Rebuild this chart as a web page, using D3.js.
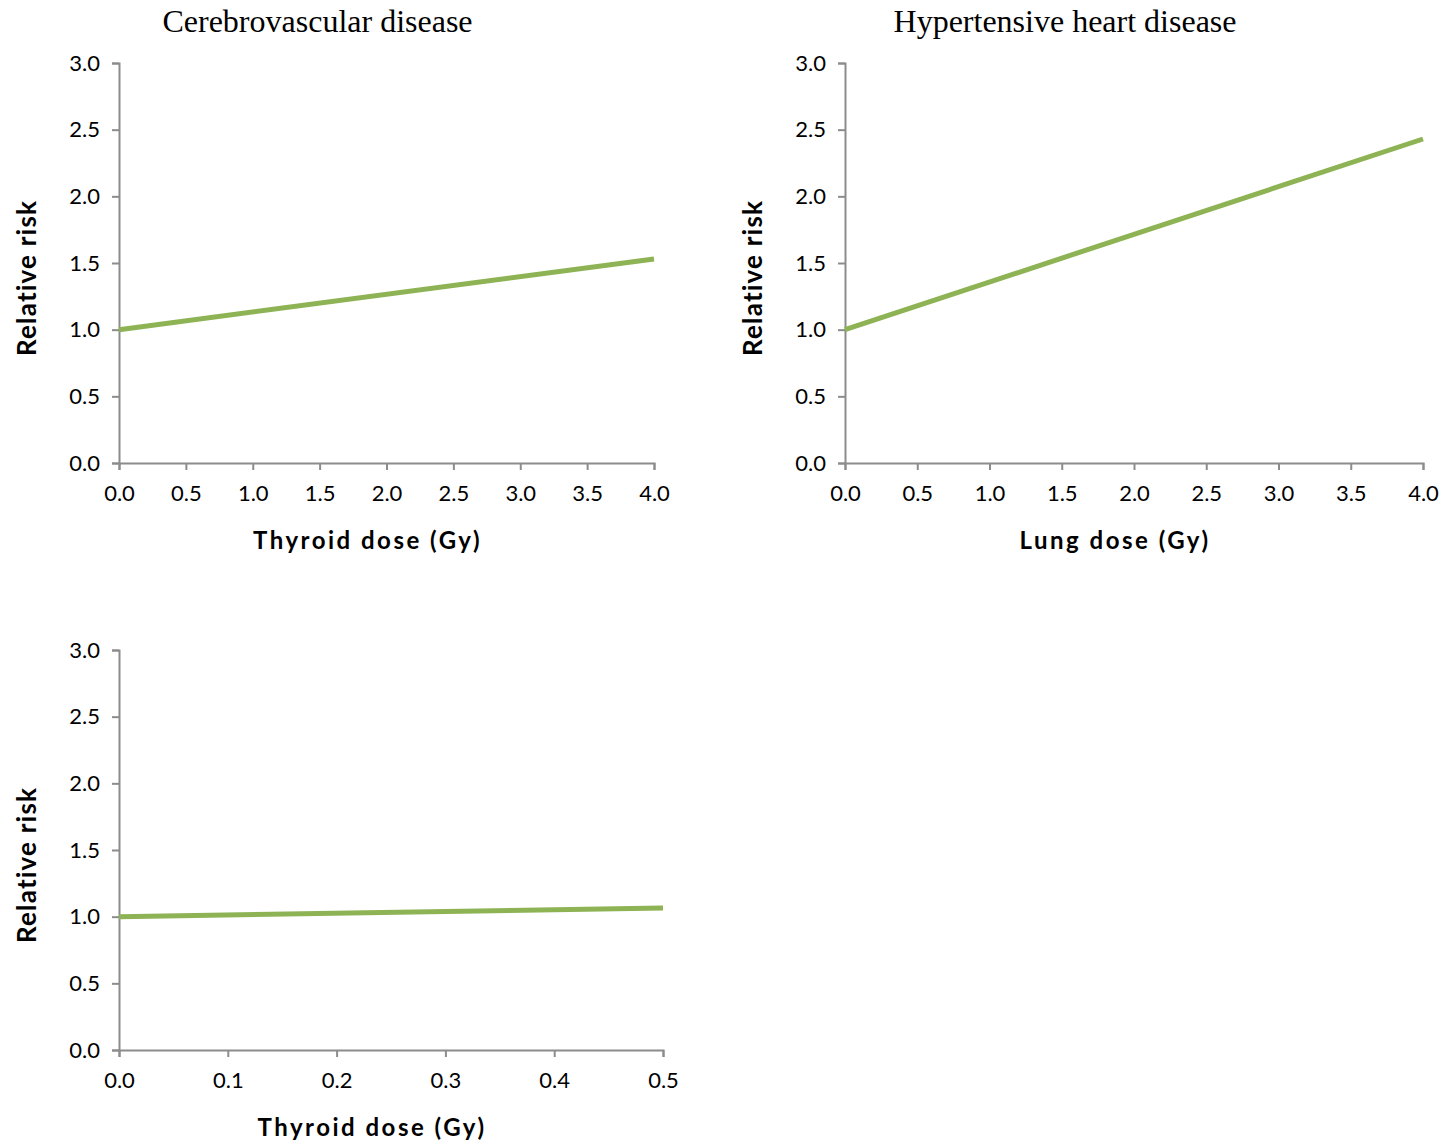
<!DOCTYPE html>
<html>
<head>
<meta charset="utf-8">
<script src="https://cdn.jsdelivr.net/npm/d3@7"></script>
<style>
  body { margin: 0; background: #fff; }
  .tick text { font-family: Lato, "Open Sans", sans-serif; font-size: 22px; fill: #000; }
  .axis path, .axis line { stroke: #8c8c8c; stroke-width: 2px; }
</style>
</head>
<body>
<div id="chart"></div>
<script>
// panel data
const titles = ["Cerebrovascular disease", "Hypertensive heart disease", ""];
const xLabels = ["Thyroid dose (Gy)", "Lung dose (Gy)", "Thyroid dose (Gy)"];
const xMax = [4.0, 4.0, 0.5];
const xTicks1 = [0, 0.5, 1, 1.5, 2, 2.5, 3, 3.5, 4];
const xTicks3 = [0, 0.1, 0.2, 0.3, 0.4, 0.5];
const yTicks = [0, 0.5, 1, 1.5, 2, 2.5, 3];
const dose1 = [0, 4.0], risk1 = [1.0, 1.53];
const dose2 = [0, 4.0], risk2 = [1.0, 2.43];
const dose3 = [0, 0.5], risk3 = [1.0, 1.065];

const panels = [
  { x0: 119, x1: 654, y0: 463, y1: 63, xt: xTicks1, dose: dose1, risk: risk1 },
  { x0: 845, x1: 1423, y0: 463, y1: 63, xt: xTicks1, dose: dose2, risk: risk2 },
  { x0: 119, x1: 663, y0: 1050, y1: 650, xt: xTicks3, dose: dose3, risk: risk3 }
];

const svg = d3.select("#chart").append("svg")
  .attr("width", 1443).attr("height", 1146);

panels.forEach((p, i) => {
  const x = d3.scaleLinear().domain([0, xMax[i]]).range([p.x0, p.x1]);
  const y = d3.scaleLinear().domain([0, 3]).range([p.y0, p.y1]);
  const mid = (p.x0 + p.x1) / 2;

  svg.append("g")
    .attr("class", "axis")
    .attr("transform", `translate(0,${p.y0})`)
    .call(d3.axisBottom(x).tickValues(p.xt).tickFormat(d3.format(".1f")).tickSizeOuter(0).tickSize(7).tickPadding(15));

  svg.append("g")
    .attr("class", "axis")
    .attr("transform", `translate(${p.x0},0)`)
    .call(d3.axisLeft(y).tickValues(yTicks).tickFormat(d3.format(".1f")).tickSizeOuter(0).tickSize(7).tickPadding(12));

  // line
  const pts = p.dose.map((d, k) => [d, p.risk[k]]);
  svg.append("path")
    .datum(pts)
    .attr("d", d3.line().x(d => x(d[0])).y(d => y(d[1])))
    .attr("fill", "none")
    .attr("stroke", "#8db354")
    .attr("stroke-width", 5);

  // title
  if (titles[i]) {
    svg.append("text")
      .attr("x", mid - 69)
      .attr("y", 32)
      .attr("text-anchor", "middle")
      .attr("font-family", "'Liberation Serif', 'DejaVu Serif', serif")
      .attr("font-size", "32px")
      .text(titles[i]);
  }

  // x label
  svg.append("text")
    .attr("x", mid - 19)
    .attr("y", p.y0 + 86)
    .attr("text-anchor", "middle")
    .attr("font-family", "Lato, 'Open Sans', sans-serif")
    .attr("font-weight", "bold")
    .attr("font-size", "24px")
    .attr("letter-spacing", "2.5px")
    .text(xLabels[i]);

  // y label
  svg.append("text")
    .attr("transform", `translate(${p.x0 - 83},${(p.y0 + p.y1) / 2 + 15}) rotate(-90)`)
    .attr("text-anchor", "middle")
    .attr("font-family", "Lato, 'Open Sans', sans-serif")
    .attr("font-weight", "bold")
    .attr("font-size", "26px")
    .attr("letter-spacing", "1.2px")
    .text("Relative risk");
});
</script>
</body>
</html>
